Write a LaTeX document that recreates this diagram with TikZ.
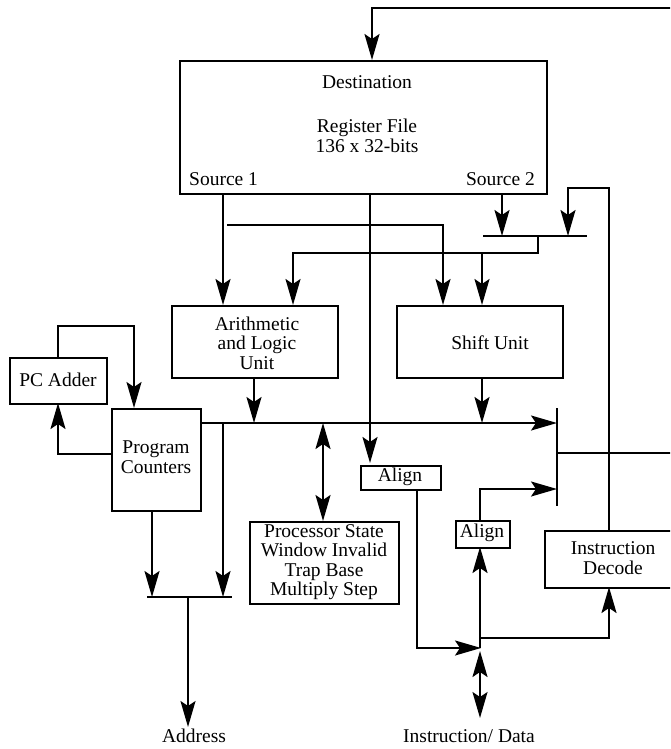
\documentclass[tikz,border=0pt]{standalone}
\usepackage{fontspec}
\setmainfont{Liberation Serif}
\usetikzlibrary{arrows.meta}
\begin{document}
\begin{tikzpicture}[x=1pt,y=-1pt,
  wire/.style={line width=2pt},
  arr/.style={wire,-{Stealth[length=26pt,width=15pt,inset=5pt]}},
  darr/.style={wire,{Stealth[length=26pt,width=15pt,inset=5pt]}-{Stealth[length=26pt,width=15pt,inset=5pt]}},
  blk/.style={draw,line width=2pt,inner sep=0pt,anchor=north west},
  lbl/.style={inner sep=0pt,align=center,font=\fontsize{19.5}{19.5}\selectfont},
  bar/.style={line width=2.2pt}]
\useasboundingbox (0,0) rectangle (670,749);
\clip (0,0) rectangle (670,749);

% register file
\node[blk,minimum width=367pt,minimum height=133pt] (reg) at (179,60) {};
\node[lbl] (regdst) at (367,82) {Destination};
\node[lbl] (regname) at (367,136) {Register File\\136 x 32-bits};
\node[lbl,anchor=west] (src1) at (189,179) {Source 1};
\node[lbl,anchor=east] (src2) at (535,179) {Source 2};

% functional units
\node[blk,minimum width=166pt,minimum height=72pt] (alu) at (171,305) {};
\node[lbl] (alutxt) at (257,343) {Arithmetic\\and Logic\\Unit};
\node[blk,minimum width=166pt,minimum height=72pt] (shift) at (396,305) {};
\node[lbl] (shifttxt) at (490,343) {Shift Unit};
\node[blk,minimum width=97pt,minimum height=46pt] (pcadd) at (9,357) {};
\node[lbl] (pcaddtxt) at (58,380) {PC Adder};
\node[blk,minimum width=89pt,minimum height=102pt] (pc) at (111,408) {};
\node[lbl] (pctxt) at (156,457) {Program\\Counters};
\node[blk,minimum width=149pt,minimum height=82pt] (proc) at (249,521) {};
\node[lbl] (proctxt) at (324,562) {Processor State\\Window Invalid\\Trap Base\\Multiply Step};
\node[blk,minimum width=80pt,minimum height=24pt] (align1) at (360,465) {};
\node[lbl] (align1txt) at (400,477) {Align};
\node[blk,minimum width=54pt,minimum height=27pt] (align2) at (455,520) {};
\node[lbl] (align2txt) at (482,533) {Align};
\node[blk,minimum width=140pt,minimum height=57pt] (idec) at (544,530) {};
\node[lbl] (idectxt) at (613,558) {Instruction\\Decode};

% external labels
\node[lbl] (addr) at (194,736) {Address};
\node[lbl] (idata) at (469,736) {Instruction/ Data};

% multiplexer bars
\coordinate (mA1) at (483,236); \coordinate (mA2) at (587,236);
\coordinate (mB1) at (147,597); \coordinate (mB2) at (232,597);
\coordinate (mC1) at (557,408); \coordinate (mC2) at (557,506);
\draw[bar] (mA1) -- (mA2);
\draw[bar] (mB1) -- (mB2);
\draw[bar] (mC1) -- (mC2);

% result feedback to the register file
\draw[arr] (557,453) -- (674,453) -- (674,8) -- (372,8) -- (372,60);

% operand paths
\draw[arr] (223,193) -- (223,305);
\draw[arr] (227,225) -- (443,225) -- (443,305);
\draw[arr] (370,193) -- (370,463);
\draw[arr] (502,193) -- (502,236);
\draw[arr] (609,530) -- (609,188) -- (568,188) -- (568,236);
\draw[arr] (538,236) -- (538,253) -- (293,253) -- (293,305);
\draw[arr] (482,253) -- (482,305);

% unit outputs and result bus
\draw[arr] (254,377) -- (254,423);
\draw[arr] (482,377) -- (482,423);
\draw[arr] (200,423) -- (557,423);
\draw[darr] (323,423) -- (323,521);

% program counter logic
\draw[arr] (58,357) -- (58,326) -- (134,326) -- (134,408);
\draw[arr] (111,454) -- (58,454) -- (58,403);
\draw[arr] (152,510) -- (152,597);
\draw[arr] (223,423) -- (223,597);
\draw[arr] (188,597) -- (188,727);

% instruction / data path
\draw[arr] (417,489) -- (417,648) -- (481,648);
\draw[arr] (480,648) -- (480,547);
\draw[arr] (480,520) -- (480,489) -- (557,489);
\draw[arr] (480,638) -- (609,638) -- (609,587);
\draw[darr] (480,651) -- (480,718);
\end{tikzpicture}
\end{document}
